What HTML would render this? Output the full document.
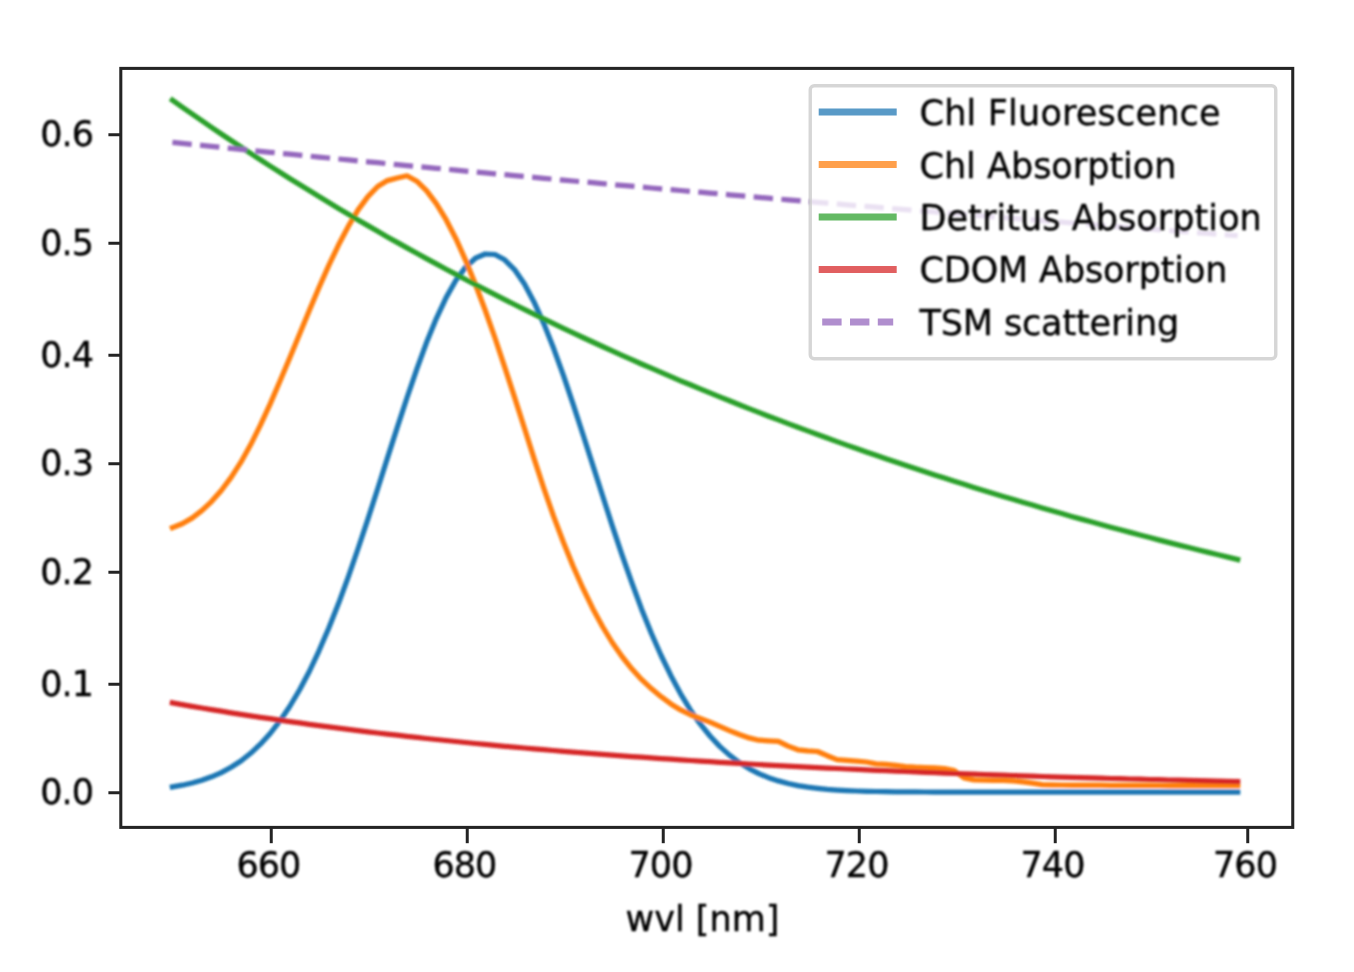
<!DOCTYPE html>
<html><head><meta charset="utf-8"><title>plot</title>
<style>
html,body{margin:0;padding:0;background:#fff;overflow:hidden;}
svg{display:block;}
text{font-family:"DejaVu Sans","Liberation Sans",sans-serif;font-size:35px;fill:#000;stroke:#000;stroke-width:0.4px;}
</style></head><body>
<svg width="1354" height="972" viewBox="0 0 1354 972">
<rect width="1354" height="972" fill="#fff"/>
<defs><filter id="soft" filterUnits="userSpaceOnUse" x="0" y="0" width="1354" height="972"><feGaussianBlur stdDeviation="0.8"/></filter></defs>
<g filter="url(#soft)" fill="none" stroke-width="5.25" stroke-linejoin="round" stroke-linecap="square">
<path stroke="#1f77b4" d="M172.4,786.9 L182.2,785.2 L192.0,783.0 L201.8,780.3 L211.5,776.8 L221.3,772.6 L231.1,767.3 L240.9,761.0 L250.6,753.3 L260.4,744.2 L270.2,733.5 L279.9,720.9 L289.7,706.5 L299.5,690.0 L309.3,671.5 L319.0,650.8 L328.8,628.0 L338.6,603.3 L348.4,576.7 L358.1,548.5 L367.9,519.1 L377.7,488.8 L387.4,458.1 L397.2,427.6 L407.0,397.7 L416.8,369.2 L426.5,342.6 L436.3,318.6 L446.1,297.6 L455.9,280.3 L465.6,267.1 L475.4,258.2 L485.2,254.0 L495.0,254.5 L504.7,259.8 L514.5,269.6 L524.3,283.8 L534.0,301.9 L543.8,323.6 L553.6,348.3 L563.4,375.3 L573.1,404.2 L582.9,434.2 L592.7,464.9 L602.5,495.5 L612.2,525.6 L622.0,554.8 L631.8,582.7 L641.5,608.9 L651.3,633.2 L661.1,655.5 L670.9,675.7 L680.6,693.8 L690.4,709.9 L700.2,723.9 L710.0,736.0 L719.7,746.4 L729.5,755.1 L739.3,762.5 L749.1,768.6 L758.8,773.6 L768.6,777.7 L778.4,780.9 L788.1,783.5 L797.9,785.6 L807.7,787.2 L817.5,788.4 L827.2,789.4 L837.0,790.1 L846.8,790.6 L856.6,791.0 L866.3,791.3 L876.1,791.5 L885.9,791.7 L895.7,791.8 L905.4,791.9 L915.2,791.9 L925.0,792.0 L934.7,792.0 L944.5,792.0 L954.3,792.0 L964.1,792.0 L973.8,792.0 L983.6,792.0 L993.4,792.0 L1003.2,792.0 L1012.9,792.0 L1022.7,792.0 L1032.5,792.0 L1042.2,792.0 L1052.0,792.0 L1061.8,792.0 L1071.6,792.0 L1081.3,792.0 L1091.1,792.0 L1100.9,792.0 L1110.7,792.0 L1120.4,792.0 L1130.2,792.0 L1140.0,792.0 L1149.8,792.0 L1159.5,792.0 L1169.3,792.0 L1179.1,792.0 L1188.8,792.0 L1198.6,792.0 L1208.4,792.0 L1218.2,792.0 L1227.9,792.0 L1237.7,792.0"/>
<path stroke="#ff7f0e" d="M172.4,527.7 L182.2,523.7 L192.0,518.1 L201.8,510.7 L211.5,501.6 L221.3,490.5 L231.1,477.4 L240.9,462.2 L250.6,444.8 L260.4,425.2 L270.2,403.9 L279.9,381.3 L289.7,357.9 L299.5,334.2 L309.3,310.5 L319.0,287.4 L328.8,265.4 L338.6,244.8 L348.4,226.2 L358.1,209.9 L367.9,196.6 L377.7,186.5 L387.4,180.6 L397.2,178.0 L407.0,175.8 L416.8,181.2 L426.5,190.7 L436.3,203.6 L446.1,219.7 L455.9,238.7 L465.6,260.3 L475.4,284.2 L485.2,310.2 L495.0,338.0 L504.7,367.1 L514.5,397.1 L524.3,427.8 L534.0,458.4 L543.8,488.2 L553.6,516.4 L563.4,542.3 L573.1,566.2 L582.9,588.2 L592.7,608.4 L602.5,626.5 L612.2,642.5 L622.0,656.5 L631.8,668.8 L641.5,679.4 L651.3,688.6 L661.1,696.7 L670.9,703.9 L680.6,709.9 L690.4,714.7 L700.2,718.5 L710.0,722.1 L719.7,726.3 L729.5,730.6 L739.3,734.5 L749.1,737.9 L758.8,740.2 L768.6,740.8 L778.4,741.3 L788.1,746.1 L797.9,749.8 L807.7,750.9 L817.5,751.5 L827.2,755.7 L837.0,759.6 L846.8,760.4 L856.6,761.1 L866.3,762.0 L876.1,763.8 L885.9,764.4 L895.7,765.4 L905.4,766.6 L915.2,767.2 L925.0,767.5 L934.7,767.9 L944.5,768.6 L954.3,770.6 L964.1,777.9 L973.8,779.9 L983.6,780.2 L993.4,780.3 L1003.2,780.5 L1012.9,780.9 L1022.7,781.9 L1032.5,783.2 L1042.2,784.6 L1052.0,784.9 L1061.8,785.0 L1071.6,785.1 L1081.3,785.1 L1091.1,785.2 L1100.9,785.2 L1110.7,785.3 L1120.4,785.3 L1130.2,785.4 L1140.0,785.4 L1149.8,785.4 L1159.5,785.5 L1169.3,785.5 L1179.1,785.6 L1188.8,785.6 L1198.6,785.6 L1208.4,785.7 L1218.2,785.7 L1227.9,785.7 L1237.7,785.7"/>
<path stroke="#2ca02c" d="M172.4,100.2 L182.2,107.1 L192.0,113.9 L201.8,120.7 L211.5,127.4 L221.3,134.0 L231.1,140.5 L240.9,147.0 L250.6,153.4 L260.4,159.8 L270.2,166.1 L279.9,172.3 L289.7,178.5 L299.5,184.6 L309.3,190.6 L319.0,196.6 L328.8,202.5 L338.6,208.4 L348.4,214.2 L358.1,220.0 L367.9,225.6 L377.7,231.3 L387.4,236.9 L397.2,242.4 L407.0,247.9 L416.8,253.3 L426.5,258.6 L436.3,263.9 L446.1,269.2 L455.9,274.4 L465.6,279.5 L475.4,284.6 L485.2,289.7 L495.0,294.7 L504.7,299.6 L514.5,304.5 L524.3,309.4 L534.0,314.2 L543.8,318.9 L553.6,323.7 L563.4,328.3 L573.1,332.9 L582.9,337.5 L592.7,342.0 L602.5,346.5 L612.2,350.9 L622.0,355.3 L631.8,359.7 L641.5,364.0 L651.3,368.2 L661.1,372.4 L670.9,376.6 L680.6,380.8 L690.4,384.8 L700.2,388.9 L710.0,392.9 L719.7,396.9 L729.5,400.8 L739.3,404.7 L749.1,408.6 L758.8,412.4 L768.6,416.2 L778.4,419.9 L788.1,423.6 L797.9,427.3 L807.7,430.9 L817.5,434.5 L827.2,438.0 L837.0,441.6 L846.8,445.1 L856.6,448.5 L866.3,451.9 L876.1,455.3 L885.9,458.7 L895.7,462.0 L905.4,465.3 L915.2,468.5 L925.0,471.7 L934.7,474.9 L944.5,478.1 L954.3,481.2 L964.1,484.3 L973.8,487.4 L983.6,490.4 L993.4,493.4 L1003.2,496.4 L1012.9,499.3 L1022.7,502.2 L1032.5,505.1 L1042.2,508.0 L1052.0,510.8 L1061.8,513.6 L1071.6,516.4 L1081.3,519.1 L1091.1,521.8 L1100.9,524.5 L1110.7,527.2 L1120.4,529.8 L1130.2,532.4 L1140.0,535.0 L1149.8,537.5 L1159.5,540.1 L1169.3,542.6 L1179.1,545.1 L1188.8,547.5 L1198.6,550.0 L1208.4,552.4 L1218.2,554.8 L1227.9,557.1 L1237.7,559.5"/>
<path stroke="#d62728" d="M172.4,702.9 L182.2,704.6 L192.0,706.3 L201.8,708.0 L211.5,709.6 L221.3,711.2 L231.1,712.8 L240.9,714.3 L250.6,715.8 L260.4,717.3 L270.2,718.7 L279.9,720.2 L289.7,721.6 L299.5,722.9 L309.3,724.3 L319.0,725.6 L328.8,726.9 L338.6,728.1 L348.4,729.4 L358.1,730.6 L367.9,731.8 L377.7,733.0 L387.4,734.1 L397.2,735.2 L407.0,736.3 L416.8,737.4 L426.5,738.5 L436.3,739.5 L446.1,740.5 L455.9,741.5 L465.6,742.5 L475.4,743.5 L485.2,744.4 L495.0,745.3 L504.7,746.3 L514.5,747.1 L524.3,748.0 L534.0,748.9 L543.8,749.7 L553.6,750.5 L563.4,751.3 L573.1,752.1 L582.9,752.9 L592.7,753.7 L602.5,754.4 L612.2,755.1 L622.0,755.9 L631.8,756.6 L641.5,757.2 L651.3,757.9 L661.1,758.6 L670.9,759.2 L680.6,759.9 L690.4,760.5 L700.2,761.1 L710.0,761.7 L719.7,762.3 L729.5,762.9 L739.3,763.4 L749.1,764.0 L758.8,764.5 L768.6,765.1 L778.4,765.6 L788.1,766.1 L797.9,766.6 L807.7,767.1 L817.5,767.6 L827.2,768.1 L837.0,768.5 L846.8,769.0 L856.6,769.4 L866.3,769.9 L876.1,770.3 L885.9,770.7 L895.7,771.1 L905.4,771.5 L915.2,771.9 L925.0,772.3 L934.7,772.7 L944.5,773.1 L954.3,773.5 L964.1,773.8 L973.8,774.2 L983.6,774.5 L993.4,774.9 L1003.2,775.2 L1012.9,775.5 L1022.7,775.8 L1032.5,776.2 L1042.2,776.5 L1052.0,776.8 L1061.8,777.1 L1071.6,777.4 L1081.3,777.6 L1091.1,777.9 L1100.9,778.2 L1110.7,778.5 L1120.4,778.7 L1130.2,779.0 L1140.0,779.2 L1149.8,779.5 L1159.5,779.7 L1169.3,780.0 L1179.1,780.2 L1188.8,780.4 L1198.6,780.7 L1208.4,780.9 L1218.2,781.1 L1227.9,781.3 L1237.7,781.5"/>
<path stroke="#9467bd" stroke-linecap="butt" stroke-dasharray="19.4 8.4" d="M172.4,142.4 L182.2,143.4 L192.0,144.4 L201.8,145.4 L211.5,146.4 L221.3,147.4 L231.1,148.4 L240.9,149.3 L250.6,150.3 L260.4,151.3 L270.2,152.3 L279.9,153.2 L289.7,154.2 L299.5,155.2 L309.3,156.1 L319.0,157.1 L328.8,158.0 L338.6,159.0 L348.4,159.9 L358.1,160.9 L367.9,161.8 L377.7,162.7 L387.4,163.7 L397.2,164.6 L407.0,165.6 L416.8,166.5 L426.5,167.4 L436.3,168.3 L446.1,169.2 L455.9,170.2 L465.6,171.1 L475.4,172.0 L485.2,172.9 L495.0,173.8 L504.7,174.7 L514.5,175.6 L524.3,176.5 L534.0,177.4 L543.8,178.3 L553.6,179.2 L563.4,180.1 L573.1,181.0 L582.9,181.8 L592.7,182.7 L602.5,183.6 L612.2,184.5 L622.0,185.4 L631.8,186.2 L641.5,187.1 L651.3,188.0 L661.1,188.8 L670.9,189.7 L680.6,190.5 L690.4,191.4 L700.2,192.2 L710.0,193.1 L719.7,193.9 L729.5,194.8 L739.3,195.6 L749.1,196.5 L758.8,197.3 L768.6,198.2 L778.4,199.0 L788.1,199.8 L797.9,200.6 L807.7,201.5 L817.5,202.3 L827.2,203.1 L837.0,203.9 L846.8,204.8 L856.6,205.6 L866.3,206.4 L876.1,207.2 L885.9,208.0 L895.7,208.8 L905.4,209.6 L915.2,210.4 L925.0,211.2 L934.7,212.0 L944.5,212.8 L954.3,213.6 L964.1,214.4 L973.8,215.2 L983.6,216.0 L993.4,216.8 L1003.2,217.5 L1012.9,218.3 L1022.7,219.1 L1032.5,219.9 L1042.2,220.7 L1052.0,221.4 L1061.8,222.2 L1071.6,223.0 L1081.3,223.7 L1091.1,224.5 L1100.9,225.3 L1110.7,226.0 L1120.4,226.8 L1130.2,227.5 L1140.0,228.3 L1149.8,229.0 L1159.5,229.8 L1169.3,230.5 L1179.1,231.3 L1188.8,232.0 L1198.6,232.8 L1208.4,233.5 L1218.2,234.2 L1227.9,235.0 L1237.7,235.7"/>
</g>
<rect x="120.8" y="68.4" width="1171.95" height="759.0" fill="none" stroke="#242424" stroke-width="3.05"/>
<g stroke="#242424" stroke-width="3.0">
<line x1="271.25" y1="827.4" x2="271.25" y2="843.2"/>
<line x1="467.25" y1="827.4" x2="467.25" y2="843.2"/>
<line x1="663.25" y1="827.4" x2="663.25" y2="843.2"/>
<line x1="859.25" y1="827.4" x2="859.25" y2="843.2"/>
<line x1="1055.25" y1="827.4" x2="1055.25" y2="843.2"/>
<line x1="1247.75" y1="827.4" x2="1247.75" y2="843.2"/>
<line x1="120.8" y1="792.75" x2="108.4" y2="792.75"/>
<line x1="120.8" y1="684.25" x2="108.4" y2="684.25"/>
<line x1="120.8" y1="572.25" x2="108.4" y2="572.25"/>
<line x1="120.8" y1="463.75" x2="108.4" y2="463.75"/>
<line x1="120.8" y1="355.25" x2="108.4" y2="355.25"/>
<line x1="120.8" y1="243.25" x2="108.4" y2="243.25"/>
<line x1="120.8" y1="134.75" x2="108.4" y2="134.75"/>
</g>
<g filter="url(#soft)">
<g text-anchor="middle" letter-spacing="-1">
<text x="268.4" y="877.1">660</text>
<text x="464.4" y="877.1">680</text>
<text x="660.5" y="877.1">700</text>
<text x="856.5" y="877.1">720</text>
<text x="1052.5" y="877.1">740</text>
<text x="1245.0" y="877.1">760</text>
<text x="702.5" y="930.5" letter-spacing="0">wvl [nm]</text>
</g>
<g text-anchor="end" letter-spacing="-1">
<text x="93.0" y="804.0">0.0</text>
<text x="93.0" y="695.5">0.1</text>
<text x="93.0" y="583.5">0.2</text>
<text x="93.0" y="475.1">0.3</text>
<text x="93.0" y="366.6">0.4</text>
<text x="93.0" y="254.6">0.5</text>
<text x="93.0" y="146.1">0.6</text>
</g>
</g>
<rect x="810.25" y="85.75" width="465.5" height="273" rx="4" ry="4" fill="#fff" fill-opacity="0.8" stroke="#cccccc" stroke-opacity="0.8" stroke-width="3.4"/>
<line x1="822.2" x2="893.2" y1="112.0" y2="112.0" stroke="#1f77b4" stroke-opacity="0.74" stroke-width="7" stroke-linecap="square"/>
<line x1="822.2" x2="893.2" y1="164.5" y2="164.5" stroke="#ff7f0e" stroke-opacity="0.74" stroke-width="7" stroke-linecap="square"/>
<line x1="822.2" x2="893.2" y1="217.0" y2="217.0" stroke="#2ca02c" stroke-opacity="0.74" stroke-width="7" stroke-linecap="square"/>
<line x1="822.2" x2="893.2" y1="269.5" y2="269.5" stroke="#d62728" stroke-opacity="0.74" stroke-width="7" stroke-linecap="square"/>
<line x1="822.2" x2="893.2" y1="322.0" y2="322.0" stroke="#9467bd" stroke-opacity="0.74" stroke-width="7" stroke-dasharray="19.4 8.4"/>
<g filter="url(#soft)">
<text x="919.5" y="125.2" letter-spacing="0.2">Chl Fluorescence</text>
<text x="919.5" y="177.6" letter-spacing="0.0">Chl Absorption</text>
<text x="919.5" y="230.0" letter-spacing="0.07">Detritus Absorption</text>
<text x="919.5" y="282.4" letter-spacing="-0.13">CDOM Absorption</text>
<text x="919.5" y="334.8" letter-spacing="-0.13">TSM scattering</text>
</g>
</svg>
</body></html>
